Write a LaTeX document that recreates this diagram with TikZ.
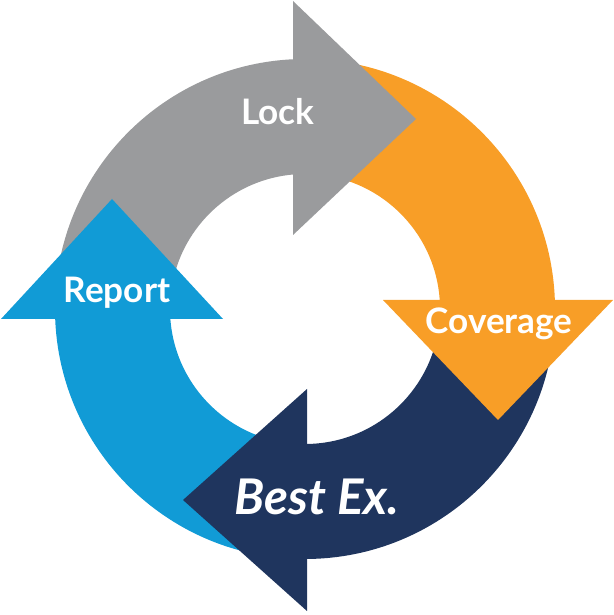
\documentclass[tikz,border=0pt]{standalone}
\usepackage{fontspec}
\usepackage{tikz}
\newfontfamily\lblfont{Lato}
\definecolor{lockgray}{RGB}{154,155,157}
\definecolor{covorange}{RGB}{248,158,39}
\definecolor{bestnavy}{RGB}{31,53,94}
\definecolor{repblue}{RGB}{17,155,214}

\begin{document}
\begin{tikzpicture}[x=0.02cm, y=0.02cm,
		lbl/.style={text=white, anchor=base, inner sep=0pt, font=\lblfont\bfseries\fontsize{20}{20}\selectfont}]
		\useasboundingbox (0,0) rectangle (614,615);
		% ring centre and radii
		\coordinate (C) at (305,306);
		\def\rout{250}
		\def\rin{135}
		% shafts (quarter rings)
		\fill[lockgray] (C) ++(180:\rout) arc[start angle=180, end angle=90, radius=\rout] -- ([shift={(90:\rin)}]C) arc[start angle=90, end angle=180, radius=\rin] -- cycle;
		\fill[covorange] (C) ++(90:\rout) arc[start angle=90, end angle=0, radius=\rout] -- ([shift={(0:\rin)}]C) arc[start angle=0, end angle=90, radius=\rin] -- cycle;
		\fill[bestnavy] (C) ++(0:\rout) arc[start angle=0, end angle=-90, radius=\rout] -- ([shift={(-90:\rin)}]C) arc[start angle=-90, end angle=0, radius=\rin] -- cycle;
		\fill[repblue] (C) ++(-90:\rout) arc[start angle=-90, end angle=-180, radius=\rout] -- ([shift={(-180:\rin)}]C) arc[start angle=-180, end angle=-90, radius=\rin] -- cycle;
		% heads
		\coordinate (G1) at (293,614);
		\coordinate (G2) at (293,380);
		\coordinate (G3) at (416,496);
		\coordinate (O1) at (383,315);
		\coordinate (O2) at (613,315);
		\coordinate (O3) at (498,195);
		\coordinate (N1) at (307,226);
		\coordinate (N2) at (307,4);
		\coordinate (N3) at (183,115);
		\coordinate (B1) at (1,296);
		\coordinate (B2) at (223,296);
		\coordinate (B3) at (112,416);
		\fill[lockgray] (G1) -- (G3) -- (G2) -- cycle;
		\fill[covorange] (O1) -- (O2) -- (O3) -- cycle;
		\fill[bestnavy] (N1) -- (N3) -- (N2) -- cycle;
		\fill[repblue] (B1) -- (B3) -- (B2) -- cycle;
		% labels
		\node[lbl] (lock) at (278,490) {Lock};
		\node[lbl] (report) at (117,312) {Report};
		\node[lbl] (coverage) at (499,281) {Coverage};
		\node[lbl, font=\lblfont\bfseries\itshape\fontsize{28}{28}\selectfont] (bestex) at (317,100) {Best Ex.};
	\end{tikzpicture}
\end{document}
